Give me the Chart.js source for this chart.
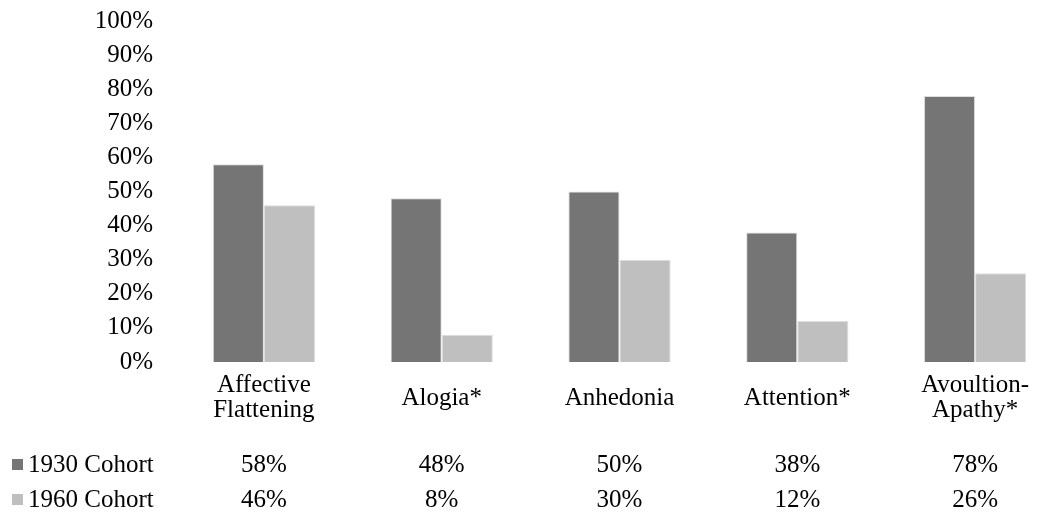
<!DOCTYPE html>
<html>
<head>
<meta charset="utf-8">
<script src="https://cdn.jsdelivr.net/npm/chart.js@4"></script>
<style>
  html, body { margin: 0; padding: 0; background: #fff; overflow: hidden; }
  #wrap { width: 1070px; height: 517px; }
</style>
</head>
<body>
<div id="wrap"><canvas id="cohortChart" width="1070" height="517"></canvas></div>
<script>
// categories, each split into its display lines
const categories = [
    ['Affective', 'Flattening'],
    ['Alogia*'],
    ['Anhedonia'],
    ['Attention*'],
    ['Avoultion-', 'Apathy*']
];
const cohort1930 = [58, 48, 50, 38, 78];
const cohort1960 = [46, 8, 30, 12, 26];
const seriesNames = ['1930 Cohort', '1960 Cohort'];
const seriesColors = ['#757575', '#bfbfbf'];

const FONT = '"Liberation Serif", "Times New Roman", serif';

// draws category names and the data table under the plot
const dataTable = {
    id: 'dataTable',
    afterDraw(chart) {
        const ctx = chart.ctx;
        const x = chart.scales.x;
        const rows = [cohort1930, cohort1960];
        const rowY = [465, 500];
        ctx.save();
        ctx.fillStyle = '#000';
        ctx.textBaseline = 'middle';
        ctx.font = '25px ' + FONT;
        ctx.textAlign = 'center';
        categories.forEach((lines, i) => {
            const cx = x.getPixelForValue(i);
            const lh = 25;
            const y0 = 398 - (lines.length - 1) * lh / 2;
            lines.forEach((t, j) => ctx.fillText(t, cx, y0 + j * lh));
            rows.forEach((r, k) => ctx.fillText(r[i] + '%', cx, rowY[k]));
        });
        ctx.textAlign = 'left';
        seriesNames.forEach((name, k) => {
            ctx.fillStyle = seriesColors[k];
            ctx.fillRect(12, rowY[k] - 6, 11, 11);
            ctx.fillStyle = '#000';
            ctx.fillText(name, 28, rowY[k]);
        });
        ctx.restore();
    }
};

const ctx = document.getElementById('cohortChart').getContext('2d');
const cohortChart = new Chart(ctx, {
    type: 'bar',
    data: {
        labels: categories.map(c => c.join(' ')),
        datasets: [
            {
                label: seriesNames[0],
                data: cohort1930,
                backgroundColor: seriesColors[0],
                borderColor: '#dedede',
                borderWidth: 1,
                barPercentage: 1,
                categoryPercentage: 0.575
            },
            {
                label: seriesNames[1],
                data: cohort1960,
                backgroundColor: seriesColors[1],
                borderColor: '#dedede',
                borderWidth: 1,
                barPercentage: 1,
                categoryPercentage: 0.575
            }
        ]
    },
    options: {
        responsive: false,
        animation: false,
        layout: { padding: { top: 21, bottom: 155, left: 0, right: 6 } },
        plugins: {
            legend: { display: false },
            tooltip: { enabled: false }
        },
        scales: {
            x: {
                display: false
            },
            y: {
                min: 0,
                max: 100,
                grid: { display: false },
                border: { display: false },
                afterFit: function(scale) {
                    scale.width = 175;
                    scale.paddingTop = 0;
                    scale.paddingBottom = 0;
                },
                ticks: {
                    stepSize: 10,
                    padding: 14,
                    color: '#000',
                    font: { family: FONT, size: 25 },
                    callback: function(value) { return value + '%'; }
                }
            }
        }
    },
    plugins: [dataTable]
});
</script>
</body>
</html>
